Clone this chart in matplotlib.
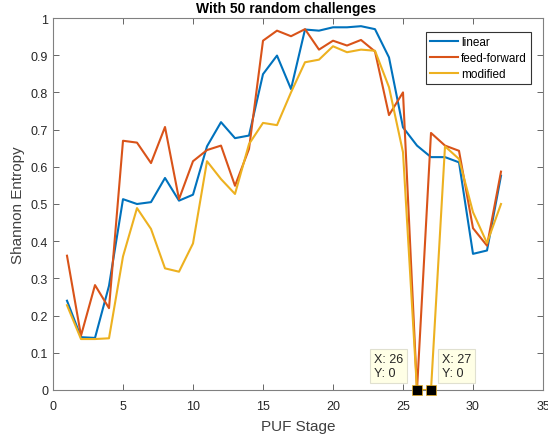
import matplotlib
matplotlib.use("Agg")
import matplotlib.pyplot as plt

plt.rcParams['font.family'] = ['Liberation Sans', 'DejaVu Sans']

stages = list(range(1, 33))
linear = [0.240, 0.142, 0.140, 0.280, 0.513, 0.500, 0.505, 0.570, 0.509, 0.525,
          0.655, 0.720, 0.677, 0.684, 0.849, 0.899, 0.809, 0.969, 0.966, 0.975,
          0.975, 0.978, 0.970, 0.894, 0.706, 0.657, 0.626, 0.626, 0.612, 0.366,
          0.375, 0.576]
feed_forward = [0.361, 0.146, 0.282, 0.220, 0.670, 0.665, 0.610, 0.707, 0.513, 0.615,
                0.645, 0.657, 0.549, 0.648, 0.939, 0.966, 0.951, 0.970, 0.915, 0.939,
                0.926, 0.941, 0.910, 0.739, 0.800, 0.000, 0.691, 0.657, 0.643, 0.435,
                0.388, 0.587]
modified = [0.228, 0.137, 0.137, 0.139, 0.359, 0.489, 0.433, 0.327, 0.318, 0.394,
            0.615, 0.567, 0.527, 0.661, 0.718, 0.712, 0.800, 0.881, 0.888, 0.924,
            0.908, 0.915, 0.912, 0.814, 0.639, 0.000, 0.000, 0.655, 0.621, 0.478,
            0.395, 0.500]
series_names = ["linear", "feed-forward", "modified"]
colors = ["#0072BD", "#D95319", "#EDB120"]
tips = [(26, 0), (27, 0)]

fig = plt.figure(figsize=(5.48, 4.39), dpi=100)
ax = fig.add_axes([53/548, 1-391/439, 490/548, 372/439])

for data, name, c in zip([linear, feed_forward, modified], series_names, colors):
    ax.plot(stages, data, color=c, lw=1.5, label=name)

ax.set_xlim(0, 35)
ax.set_ylim(0, 1)
ax.set_xticks(range(0, 36, 5))
ax.set_yticks([i/10 for i in range(11)])
ax.set_yticklabels(["0"] + [f"{i/10:.1f}" for i in range(1, 10)] + ["1"])
axc = "#4d4d4d"
ax.tick_params(direction='in', top=True, right=True, length=4, width=0.6,
               colors=axc, labelsize=9, labelcolor="#262626")
ax.tick_params(axis='x', pad=7)
for s in ax.spines.values():
    s.set_color("#808080")
    s.set_linewidth(0.8)

ax.set_title("With 50 random challenges", fontsize=10, fontweight='bold', pad=4,
             x=(285.5-53)/490)
ax.set_xlabel("PUF Stage", fontsize=11, color="#404040", labelpad=5)
ax.set_ylabel("Shannon Entropy", fontsize=11, color="#404040")

leg = ax.legend(loc='upper right', bbox_to_anchor=((531-53)/490, 1-(33-19)/372),
                borderaxespad=0, fontsize=8.5, frameon=True, fancybox=False, framealpha=1,
                handlelength=2.3, borderpad=0.35, labelspacing=0.32, handletextpad=0.3)
leg.get_frame().set_edgecolor("#333333")
leg.get_frame().set_linewidth(0.8)

# data tips
for (tx, ty), side in zip(tips, ['left', 'right']):
    ax.plot([tx], [ty], marker='s', ms=6.5, color='black', mec='#EDB120', mew=0.5,
            clip_on=False, zorder=5)
    box = dict(boxstyle='square,pad=0.3', fc='#FFFFE6', ec='#E0E0D0', lw=0.8)
    if side == 'left':
        ax.text(25.0, 0.03, f"X: {tx}\nY: {ty}", ha='right', va='bottom',
                multialignment='left', fontsize=9, color='#262626', linespacing=1.25,
                bbox=box)
    else:
        ax.text(27.75, 0.03, f"X: {tx}\nY: {ty}", ha='left', va='bottom',
                multialignment='left', fontsize=9, color='#262626', linespacing=1.25,
                bbox=box)

fig.savefig("out.png", dpi=100)
